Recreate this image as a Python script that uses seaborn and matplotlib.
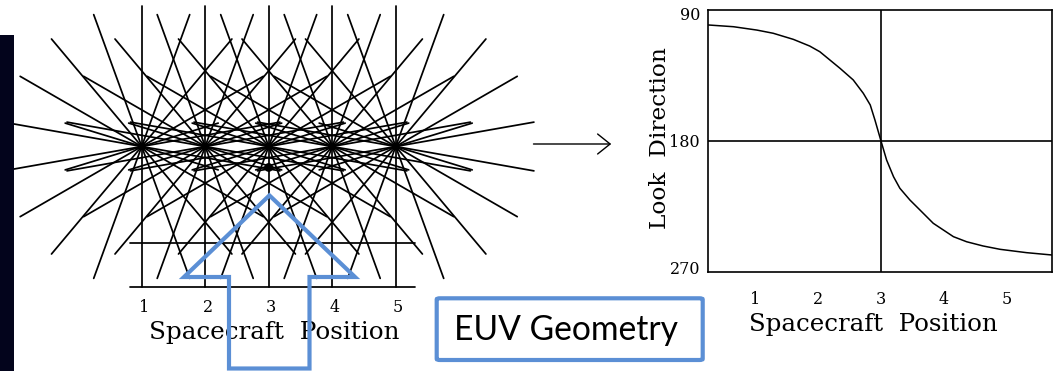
import numpy as np
import pandas as pd
import matplotlib
matplotlib.use("Agg")
import matplotlib.pyplot as plt
import matplotlib.transforms as mtrans
import seaborn as sns
from matplotlib.patches import Polygon, Rectangle, FancyBboxPatch, FancyArrowPatch

# ---------------- data ----------------
positions = [1, 2, 3, 4, 5]
position_labels = ["1", "2", "3", "4", "5"]
long_ray_angles = [10, 30, 50, 70, 90, 110, 130, 150, 170]   # degrees
short_ray_angles = [17, 163]                                  # degrees
long_ray_half = 2.21      # half-length of rays (position units)
short_ray_half = 1.26
grid_levels = [-2.21, -1.52]      # horizontal reference lines
grid_xrange = [0.82, 5.30]
target_x = [3]
target_y = [-0.33]

curve_x = [0.26, 0.66, 1.03, 1.29, 1.61, 1.87, 2.03, 2.19, 2.35, 2.56, 2.72,
           2.83, 2.905, 3.00, 3.09, 3.20, 3.30, 3.46, 3.62, 3.83, 4.15, 4.36,
           4.62, 4.89, 5.31, 5.71]
curve_y = [100.3, 101.5, 103.8, 106.0, 110.2, 114.8, 118.7, 124.4, 130.1, 138.1,
           147.3, 155.3, 165.7, 180.0, 193.2, 204.7, 212.6, 220.7, 227.6, 236.7,
           245.9, 249.4, 252.3, 254.6, 256.9, 258.5]
look_ticks = [90, 180, 270]
look_tick_labels = ["90", "180", "270"]
cross_x = 3
cross_y = 180

xlabel_text = "Spacecraft  Position"
ylabel_text = "Look  Direction"
box_text = "EUV Geometry"

# ---------------- style ----------------
sns.set_theme(style="white")
plt.rcParams["font.family"] = ["DejaVu Serif"]
plt.rcParams["text.color"] = "black"
plt.rcParams["axes.labelcolor"] = "black"
plt.rcParams["xtick.color"] = "black"
plt.rcParams["ytick.color"] = "black"
BLUE = "#5b8fd5"
NAVY = "#03041c"

W, H = 1057, 371
fig = plt.figure(figsize=(W / 100, H / 100), dpi=100)
fig.patch.set_facecolor("white")


def fx(px):
    return px / W


def fy(py):
    return 1 - py / H


def fit_size(txt, target_px):
    fig.canvas.draw()
    r = fig.canvas.get_renderer()
    bb = txt.get_window_extent(r)
    txt.set_fontsize(txt.get_fontsize() * target_px / max(bb.width, bb.height))


# ---------------- left ray diagram ----------------
ax = fig.add_axes([0, 0, 1, 1])
ax.set_axis_off()
ax.patch.set_alpha(0)

rows = []
uid = 0
for p in positions:
    for angs, half in ((long_ray_angles, long_ray_half), (short_ray_angles, short_ray_half)):
        for a in angs:
            t = np.deg2rad(a)
            dx, dy = half * np.cos(t), half * np.sin(t)
            rows.append((uid, p - dx, -dy))
            rows.append((uid, p + dx, dy))
            uid += 1
for g in grid_levels:
    rows.append((uid, grid_xrange[0], g))
    rows.append((uid, grid_xrange[1], g))
    uid += 1
rays = pd.DataFrame(rows, columns=["ray", "x", "y"])

sns.lineplot(data=rays, x="x", y="y", units="ray", estimator=None, sort=False,
             color="black", lw=1.25, ax=ax, legend=False)
sns.scatterplot(x=positions, y=[0] * len(positions), color="black", s=30,
                edgecolor="none", ax=ax)
sns.scatterplot(x=target_x, y=target_y, color="black", s=40, edgecolor="none", ax=ax)

ppu = 63.5
x0 = 141.7
ycen = 371 - 146.5
ax.set_xlim(1 - x0 / ppu, 1 + (W - x0) / ppu)
ax.set_ylim(-ycen / ppu, (H - ycen) / ppu)

for p, lab in zip(positions, position_labels):
    ax.text(p + 0.04, (H - 307.6 - ycen) / ppu, lab, ha="center", va="center",
            fontsize=11.5)
lt = ax.text(1 + (274.5 - x0) / ppu, (H - 332 - ycen) / ppu, xlabel_text,
             ha="center", va="center", fontsize=15)
fit_size(lt, 251)

# navy bar on left edge
fig.patches.append(Rectangle((0, 0), fx(14), fy(35), transform=fig.transFigure,
                             facecolor=NAVY, edgecolor="none", zorder=5))

# ---------------- right chart ----------------
ax2 = fig.add_axes([fx(708.3), fy(271.7), fx(1051.7 - 708.3), (271.7 - 10) / H])
sns.lineplot(x=curve_x, y=curve_y, sort=False, color="black", lw=1.1, ax=ax2)
ax2.axvline(cross_x, color="black", lw=1.2)
ax2.axhline(cross_y, color="black", lw=1.2)
ax2.set_xlim(curve_x[0], curve_x[-1])
ax2.set_ylim(look_ticks[-1], look_ticks[0])
ax2.set_xticks(positions)
ax2.set_xticklabels(position_labels)
ax2.set_yticks(look_ticks)
ax2.set_yticklabels(look_tick_labels)
ax2.tick_params(axis="both", length=0, labelsize=11.5, colors="black")
ax2.tick_params(axis="x", pad=14)
ax2.tick_params(axis="y", pad=6)
ylabs = ax2.get_yticklabels()
shifts = [-3.5, 0, 4.5]   # pixel nudges so end labels sit inside the frame
for lab, s in zip(ylabs, shifts):
    lab.set_transform(lab.get_transform() +
                      mtrans.ScaledTranslation(0, s / 100, fig.dpi_scale_trans))
for s in ax2.spines.values():
    s.set_visible(True)
    s.set_color("black")
    s.set_linewidth(1.2)
ax2.set_facecolor("white")
ax2.grid(False)

xl = ax2.set_xlabel(xlabel_text, fontsize=15, va="center")
ax2.xaxis.set_label_coords((873 - 708.3) / 343.4, (271.7 - 325) / 261.7)
fit_size(xl, 250)
yl = ax2.set_ylabel(ylabel_text, fontsize=15, va="center", rotation_mode="anchor")
ax2.yaxis.set_label_coords((660 - 708.3) / 343.4, (271.7 - 138) / 261.7)
fit_size(yl, 183)

# small arrow between panels
fig.add_artist(FancyArrowPatch(
    (fx(530.7), fy(144)), (fx(614), fy(144)), transform=fig.transFigure,
    arrowstyle="->,head_length=0.75,head_width=0.6", mutation_scale=12,
    color="black", lw=1.0))

# big blue outline arrow
arrow_px = [(269.4, 195.4), (355, 277), (309.5, 277), (309.5, 368.5),
            (229, 368.5), (229, 277), (184, 277)]
fig.patches.append(Polygon([(fx(a), fy(b)) for a, b in arrow_px], closed=True,
                           transform=fig.transFigure, fill=False,
                           edgecolor=BLUE, lw=3.0, joinstyle="miter", zorder=6))

# EUV Geometry box
fig.patches.append(FancyBboxPatch((fx(436.7), fy(360)), fx(702.7 - 436.7),
                                  (360 - 298.3) / H,
                                  boxstyle="round,pad=0,rounding_size=0.003",
                                  transform=fig.transFigure, facecolor="white",
                                  edgecolor=BLUE, lw=3.0, zorder=6))
bt = fig.text(fx(566.5), fy(329.5), box_text, ha="center", va="center",
              fontsize=22, family=["Lato", "DejaVu Sans"], color="black", zorder=7)
fit_size(bt, 223)

fig.savefig("out.png", dpi=100, facecolor="white")
